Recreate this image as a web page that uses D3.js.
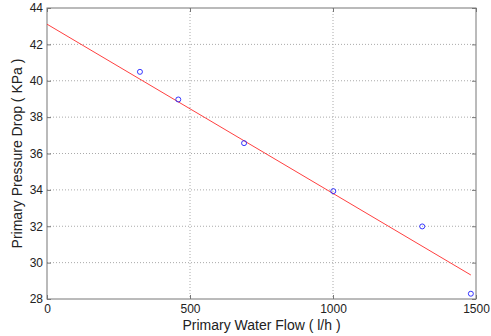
<!DOCTYPE html>
<html>
<head>
<meta charset="utf-8">
<script src="https://cdn.jsdelivr.net/npm/d3@7"></script>
<style>
  body { margin: 0; background: #fff; }
  text { font-family: "Liberation Sans", Arial, sans-serif; fill: #222; }
</style>
</head>
<body>
<div id="vis-container"></div>
<script>
// measured points
var flow = [325, 459, 689, 1001, 1312, 1482];
var pressure = [40.49, 38.97, 36.57, 33.93, 31.99, 28.29];
// fitted line end points as drawn
var fitFlow = [0, 1482];
var fitPressure = [43.11, 29.32];
var xTicks = [0, 500, 1000, 1500];
var yTicks = [28, 30, 32, 34, 36, 38, 40, 42, 44];

var margin = {top: 8, right: 15, bottom: 37, left: 47},
    width = 491 - margin.left - margin.right,
    height = 336 - margin.top - margin.bottom;

var x = d3.scaleLinear().domain([0, 1500]).range([0, width]);
var y = d3.scaleLinear().domain([28, 44]).range([height, 0]);

var svg = d3.select("#vis-container").append("svg")
    .attr("width", 491)
    .attr("height", 336)
    .append("g")
    .attr("transform", "translate(" + margin.left + "," + margin.top + ")");

// grid
svg.selectAll(".gx")
    .data(xTicks.slice(1, -1))
    .enter().append("line")
    .attr("x1", function(d) { return x(d); })
    .attr("x2", function(d) { return x(d); })
    .attr("y1", 0).attr("y2", height)
    .attr("stroke", "#aaa").attr("stroke-dasharray", "1,2");
svg.selectAll(".gy")
    .data(yTicks.slice(1, -1))
    .enter().append("line")
    .attr("y1", function(d) { return y(d); })
    .attr("y2", function(d) { return y(d); })
    .attr("x1", 0).attr("x2", width)
    .attr("stroke", "#aaa").attr("stroke-dasharray", "1,2");

// axes (ticks inside, MATLAB style)
var axisColor = "#777";
var fmt = d3.format("d");
function styleAxis(g, hideText) {
    g.select(".domain").remove();
    g.selectAll(".tick line").attr("stroke", axisColor);
    g.selectAll("text").style("font-size", "12px").attr("fill", "#222");
    if (hideText) g.selectAll("text").remove();
}
svg.append("g")
    .attr("transform", "translate(0," + height + ")")
    .call(d3.axisBottom(x).tickValues(xTicks).tickFormat(fmt).tickSize(-4).tickPadding(5))
    .call(styleAxis, false);
svg.append("g")
    .call(d3.axisTop(x).tickValues(xTicks).tickSize(-4))
    .call(styleAxis, true);
svg.append("g")
    .call(d3.axisLeft(y).tickValues(yTicks).tickFormat(fmt).tickSize(-4).tickPadding(4))
    .call(styleAxis, false);
svg.append("g")
    .attr("transform", "translate(" + width + ",0)")
    .call(d3.axisRight(y).tickValues(yTicks).tickSize(-4))
    .call(styleAxis, true);

svg.append("rect")
    .attr("width", width).attr("height", height)
    .attr("fill", "none").attr("stroke", axisColor);

// fit line
var fit = fitFlow.map(function(d, i) { return [d, fitPressure[i]]; });
svg.append("path")
    .datum(fit)
    .attr("fill", "none")
    .attr("stroke", "#ff4040")
    .attr("stroke-width", 1)
    .attr("d", d3.line()
        .x(function(d) { return x(d[0]); })
        .y(function(d) { return y(d[1]); }));

// data points
svg.selectAll(".pt")
    .data(flow)
    .enter().append("circle")
    .attr("cx", function(d) { return x(d); })
    .attr("cy", function(d, i) { return y(pressure[i]); })
    .attr("r", 2.5)
    .attr("fill", "none")
    .attr("stroke", "#2020ff")
    .attr("stroke-width", 0.9);

// labels
svg.append("text")
    .attr("x", width / 2)
    .attr("y", height + 31)
    .attr("text-anchor", "middle")
    .style("font-size", "14px")
    .text("Primary Water Flow ( l/h )");
svg.append("text")
    .attr("transform", "translate(-25," + (height / 2) + ") rotate(-90)")
    .attr("text-anchor", "middle")
    .style("font-size", "14px")
    .text("Primary Pressure Drop ( KPa )");
</script>
</body>
</html>
